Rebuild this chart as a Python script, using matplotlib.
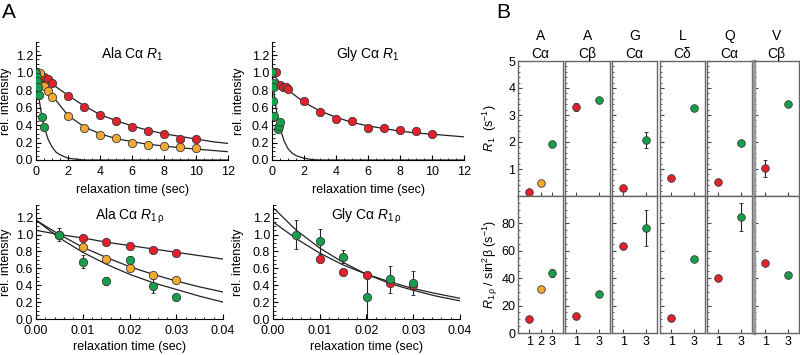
import matplotlib
matplotlib.use("Agg")
import matplotlib.pyplot as plt
import matplotlib.ticker as mt

plt.rcParams['font.family'] = ['Liberation Sans', 'DejaVu Sans']
plt.rcParams['mathtext.fontset'] = 'custom'
plt.rcParams['mathtext.rm'] = 'Liberation Sans'
plt.rcParams['mathtext.it'] = 'Liberation Sans:italic'
plt.rcParams['mathtext.bf'] = 'Liberation Sans:bold'

RED, ORANGE, GREEN = "#e6202b", "#f4aa2c", "#17a04b"
EDGE = "#3a3a3a"

# --- A: R1 decays (points) ---
ala_r1_red_t = [0.25, 0.5, 0.75, 1, 2, 3, 4, 5, 6, 7, 8, 9, 10]
ala_r1_red_y = [0.98, 0.95, 0.93, 0.88, 0.73, 0.61, 0.52, 0.45, 0.38, 0.33, 0.30, 0.24, 0.24]
ala_r1_org_t = [0.25, 0.5, 0.75, 1, 2, 3, 4, 5, 6, 7, 8, 9, 10]
ala_r1_org_y = [1.00, 0.85, 0.79, 0.72, 0.50, 0.37, 0.29, 0.25, 0.19, 0.17, 0.16, 0.15, 0.14]
ala_r1_grn_t = [0.02, 0.05, 0.08, 0.1, 0.2, 0.4, 0.5]
ala_r1_grn_y = [1.00, 0.95, 0.90, 0.84, 0.74, 0.49, 0.38]

gly_r1_red_t = [0.25, 0.5, 0.7, 0.85, 1, 2, 3, 4, 5, 6, 7, 8, 9, 10]
gly_r1_red_y = [1.01, 0.86, 0.84, 0.83, 0.81, 0.67, 0.55, 0.47, 0.45, 0.37, 0.37, 0.34, 0.33, 0.30]
gly_r1_grn_t = [0.02, 0.04, 0.06, 0.08, 0.15, 0.4, 0.45, 0.5]
gly_r1_grn_y = [1.01, 0.88, 0.84, 0.67, 0.50, 0.35, 0.39, 0.43]

# --- A: R1 fit curves ---
r1_curve_t = [0, 0.5, 1, 2, 3, 4, 5, 6, 7, 8, 9, 10, 11, 12]
ala_r1_red_fit = [1.00, 0.94, 0.87, 0.74, 0.62, 0.52, 0.45, 0.39, 0.34, 0.30, 0.27, 0.24, 0.21, 0.19]
ala_r1_org_fit = [1.05, 0.86, 0.74, 0.51, 0.38, 0.30, 0.245, 0.21, 0.18, 0.16, 0.14, 0.125, 0.11, 0.095]
gly_r1_red_fit = [1.00, 0.88, 0.80, 0.66, 0.56, 0.49, 0.43, 0.39, 0.36, 0.33, 0.31, 0.295, 0.28, 0.265]
fast_curve_t = [0, 0.1, 0.2, 0.3, 0.4, 0.5, 0.75, 1.0, 1.25, 1.5, 2.0, 2.5, 3.0, 12]
ala_r1_grn_fit = [1.00, 0.83, 0.69, 0.57, 0.47, 0.39, 0.24, 0.15, 0.09, 0.06, 0.02, 0.01, 0.0, 0.0]
gly_r1_grn_fit = [1.00, 0.81, 0.66, 0.54, 0.45, 0.37, 0.22, 0.13, 0.08, 0.05, 0.02, 0.005, 0.0, 0.0]

# --- A: R1rho decays ---
rho_t = [0.005, 0.01, 0.015, 0.02, 0.025, 0.03]
ala_rho_red_y = [1.00, 0.96, 0.91, 0.86, 0.82, 0.78]
ala_rho_org_y = [1.00, 0.85, 0.71, 0.60, 0.52, 0.46]
ala_rho_grn_y = [1.00, 0.68, 0.45, 0.70, 0.39, 0.26]
ala_rho_grn_err = [0.08, 0.08, 0.05, 0.05, 0.08, 0.04]
gly_rho_red_t = [0.01, 0.015, 0.02, 0.025, 0.03]
gly_rho_red_y = [0.71, 0.56, 0.52, 0.43, 0.40]
gly_rho_grn_y = [1.00, 0.92, 0.74, 0.26, 0.47, 0.43]
gly_rho_grn_err = [0.17, 0.15, 0.08, 0.27, 0.16, 0.14]

rho_curve_t = [0, 0.005, 0.01, 0.015, 0.02, 0.025, 0.03, 0.035, 0.04]
ala_rho_red_fit = [1.05, 1.00, 0.96, 0.91, 0.87, 0.83, 0.79, 0.75, 0.71]
ala_rho_org_fit = [1.17, 1.00, 0.85, 0.73, 0.62, 0.53, 0.45, 0.38, 0.32]
ala_rho_grn_fit = [1.17, 0.96, 0.79, 0.65, 0.53, 0.43, 0.35, 0.27, 0.20]
gly_rho_fit_a = [1.32, 1.05, 0.84, 0.67, 0.53, 0.42, 0.34, 0.27, 0.215]
gly_rho_fit_b = [1.15, 0.95, 0.78, 0.64, 0.53, 0.44, 0.36, 0.30, 0.245]

# --- B: rates per site ---
sites = ["A\nCα", "A\nCβ", "G\nCα", "L\nCδ", "Q\nCα", "V\nCβ"]
site_x = [[1, 2, 3], [1, 3], [1, 3], [1, 3], [1, 3], [1, 3]]
site_col = [[RED, ORANGE, GREEN], [RED, GREEN], [RED, GREEN], [RED, GREEN], [RED, GREEN], [RED, GREEN]]
r1_vals = [[0.16, 0.47, 1.91], [3.28, 3.55], [0.28, 2.07], [0.65, 3.25], [0.53, 1.95], [1.02, 3.41]]
r1_errs = [[0, 0.1, 0], [0.15, 0], [0, 0.3], [0, 0.12], [0, 0], [0.3, 0]]
rho_vals = [[10, 32, 44], [12.5, 28.4], [63.3, 76.8], [11.3, 54], [40, 84.6], [51, 42]]
rho_errs = [[0, 0, 3], [0, 0], [0, 13], [0, 0], [0, 10.5], [0, 2]]

fig = plt.figure(figsize=(8, 3.55), dpi=100)
W, H = 800, 355


def box(x0, y0, x1, y1):
    return [x0 / W, (H - y1) / H, (x1 - x0) / W, (y1 - y0) / H]


def style_a(ax, rho):
    ax.spines['top'].set_visible(False)
    ax.spines['right'].set_visible(False)
    ax.set_ylim(0, 1.35)
    ax.yaxis.set_major_locator(mt.MultipleLocator(0.2))
    ax.yaxis.set_minor_locator(mt.MultipleLocator(0.05))
    ax.yaxis.set_major_formatter(mt.FormatStrFormatter('%.1f'))
    if rho:
        ax.set_xlim(0, 0.04)
        ax.xaxis.set_major_locator(mt.MultipleLocator(0.01))
        ax.xaxis.set_minor_locator(mt.MultipleLocator(0.002))
        ax.xaxis.set_major_formatter(mt.FormatStrFormatter('%.2f'))
    else:
        ax.set_xlim(0, 12)
        ax.xaxis.set_major_locator(mt.MultipleLocator(2))
        ax.xaxis.set_minor_locator(mt.MultipleLocator(0.5))
    ax.tick_params(which='both', direction='in', labelsize=9, pad=2)
    ax.tick_params(axis='x', pad=4.5)
    ax.tick_params(which='major', length=3.5)
    ax.tick_params(which='minor', length=1.8)
    ax.set_ylabel("rel. intensity", fontsize=9)
    ax.set_xlabel("relaxation time (sec)", fontsize=9)


def pts(ax, t, y, c, err=None, ms=6):
    ax.errorbar(t, y, yerr=err, fmt='o', color=c, mfc=c, mec=EDGE, mew=0.6, ms=ms,
                ecolor='#222', elinewidth=0.8, capsize=1.5, zorder=4)


# top-left: Ala R1
ax = fig.add_axes(box(36, 42, 228, 160))
style_a(ax, False)
ax.plot(r1_curve_t, ala_r1_red_fit, color='#222', lw=0.9)
ax.plot(r1_curve_t, ala_r1_org_fit, color='#222', lw=0.9)
ax.plot(fast_curve_t, ala_r1_grn_fit, color='#222', lw=0.9)
pts(ax, ala_r1_red_t, ala_r1_red_y, RED)
pts(ax, ala_r1_org_t, ala_r1_org_y, ORANGE)
pts(ax, ala_r1_grn_t, ala_r1_grn_y, GREEN)
ax.text(0.5, 0.9, r"Ala C$\mathrm{\alpha}$ $R_1$", transform=ax.transAxes, ha='center', va='center', fontsize=10)
ax.yaxis.set_label_coords(-0.125, 0.5)
ax.xaxis.set_label_coords(0.5, -0.2)

# top-right: Gly R1
ax = fig.add_axes(box(272, 42, 464, 160))
style_a(ax, False)
ax.plot(r1_curve_t, gly_r1_red_fit, color='#222', lw=0.9)
ax.plot(fast_curve_t, gly_r1_grn_fit, color='#222', lw=0.9)
pts(ax, gly_r1_red_t, gly_r1_red_y, RED, err=0.03)
pts(ax, gly_r1_grn_t, gly_r1_grn_y, GREEN, err=0.03)
ax.text(0.5, 0.9, r"Gly C$\mathrm{\alpha}$ $R_1$", transform=ax.transAxes, ha='center', va='center', fontsize=10)
ax.yaxis.set_label_coords(-0.14, 0.5)
ax.xaxis.set_label_coords(0.5, -0.2)

# bottom-left: Ala R1rho
ax = fig.add_axes(box(36, 205, 223, 319))
style_a(ax, True)
ax.plot(rho_curve_t, ala_rho_red_fit, color='#222', lw=0.9)
ax.plot(rho_curve_t, ala_rho_org_fit, color='#222', lw=0.9)
ax.plot(rho_curve_t, ala_rho_grn_fit, color='#222', lw=0.9)
pts(ax, rho_t, ala_rho_red_y, RED)
pts(ax, rho_t, ala_rho_org_y, ORANGE)
pts(ax, rho_t, ala_rho_grn_y, GREEN, err=ala_rho_grn_err)
ax.text(0.5, 0.9, r"Ala C$\mathrm{\alpha}$ $R_{1\,\mathrm{\rho}}$", transform=ax.transAxes, ha='center', va='center', fontsize=10)
ax.yaxis.set_label_coords(-0.13, 0.5)
ax.xaxis.set_label_coords(0.5, -0.19)

# bottom-right: Gly R1rho
ax = fig.add_axes(box(273, 205, 460, 319))
style_a(ax, True)
ax.plot(rho_curve_t, gly_rho_fit_a, color='#222', lw=0.9)
ax.plot(rho_curve_t, gly_rho_fit_b, color='#222', lw=0.9)
pts(ax, gly_rho_red_t, gly_rho_red_y, RED, err=0.03)
pts(ax, rho_t, gly_rho_grn_y, GREEN, err=gly_rho_grn_err)
ax.text(0.5, 0.9, r"Gly C$\mathrm{\alpha}$ $R_{1\,\mathrm{\rho}}$", transform=ax.transAxes, ha='center', va='center', fontsize=10)
ax.yaxis.set_label_coords(-0.155, 0.5)
ax.xaxis.set_label_coords(0.5, -0.19)

# --- panel B ---
col_left = [518, 565, 612, 660, 707, 754]
col_w = 45
for i, site in enumerate(sites):
    x0 = col_left[i]
    top = fig.add_axes(box(x0, 61, x0 + col_w, 196))
    bot = fig.add_axes(box(x0, 196, x0 + col_w, 333))
    for a in (top, bot):
        a.set_xlim(0, 4)
        a.set_xticks(site_x[i])
        for s in a.spines.values():
            s.set_color('#666')
            s.set_linewidth(1.0)
        a.tick_params(which='both', direction='in', labelsize=9, pad=2, color='#444')
        a.tick_params(which='major', length=3)
        a.tick_params(which='minor', length=1.5)
        for xv, yv, ev, c in zip(site_x[i], r1_vals[i] if a is top else rho_vals[i],
                                 r1_errs[i] if a is top else rho_errs[i], site_col[i]):
            a.errorbar([xv], [yv], yerr=[ev] if ev else None, fmt='o', color=c, mfc=c,
                       mec=EDGE, mew=0.6, ms=5.5, ecolor='#222', elinewidth=0.8, capsize=1.5, zorder=4)
    top.set_ylim(0, 5)
    top.yaxis.set_major_locator(mt.FixedLocator([1, 2, 3, 4, 5]))
    top.yaxis.set_minor_locator(mt.MultipleLocator(0.2))
    bot.set_ylim(0, 100)
    bot.yaxis.set_major_locator(mt.FixedLocator([0, 20, 40, 60, 80]))
    bot.yaxis.set_minor_locator(mt.MultipleLocator(5))
    top.tick_params(axis='x', labelbottom=False)
    top.set_title(site, fontsize=10, pad=2, linespacing=1.35)
    if i > 0:
        top.tick_params(axis='y', labelleft=False)
        bot.tick_params(axis='y', labelleft=False)
    if i == 5:
        top.spines['left'].set_linewidth(2.5)
        top.spines['left'].set_color('#999')
        bot.spines['left'].set_linewidth(2.5)
        bot.spines['left'].set_color('#999')

fig.text(490 / W, 1 - 128 / H, r"$R_1$  (s$^{-1}$)", rotation=90, ha='center', va='center', fontsize=9)
fig.text(490 / W, 1 - 264 / H, r"$R_{1\,\mathrm{\rho}}$ / sin$^2$β (s$^{-1}$)", rotation=90,
         ha='center', va='center', fontsize=9)

fig.text(9 / W, 1 - 13 / H, "A", ha='center', va='center', fontsize=15)
fig.text(503 / W, 1 - 13 / H, "B", ha='center', va='center', fontsize=15)

plt.savefig("out.png", dpi=100)
